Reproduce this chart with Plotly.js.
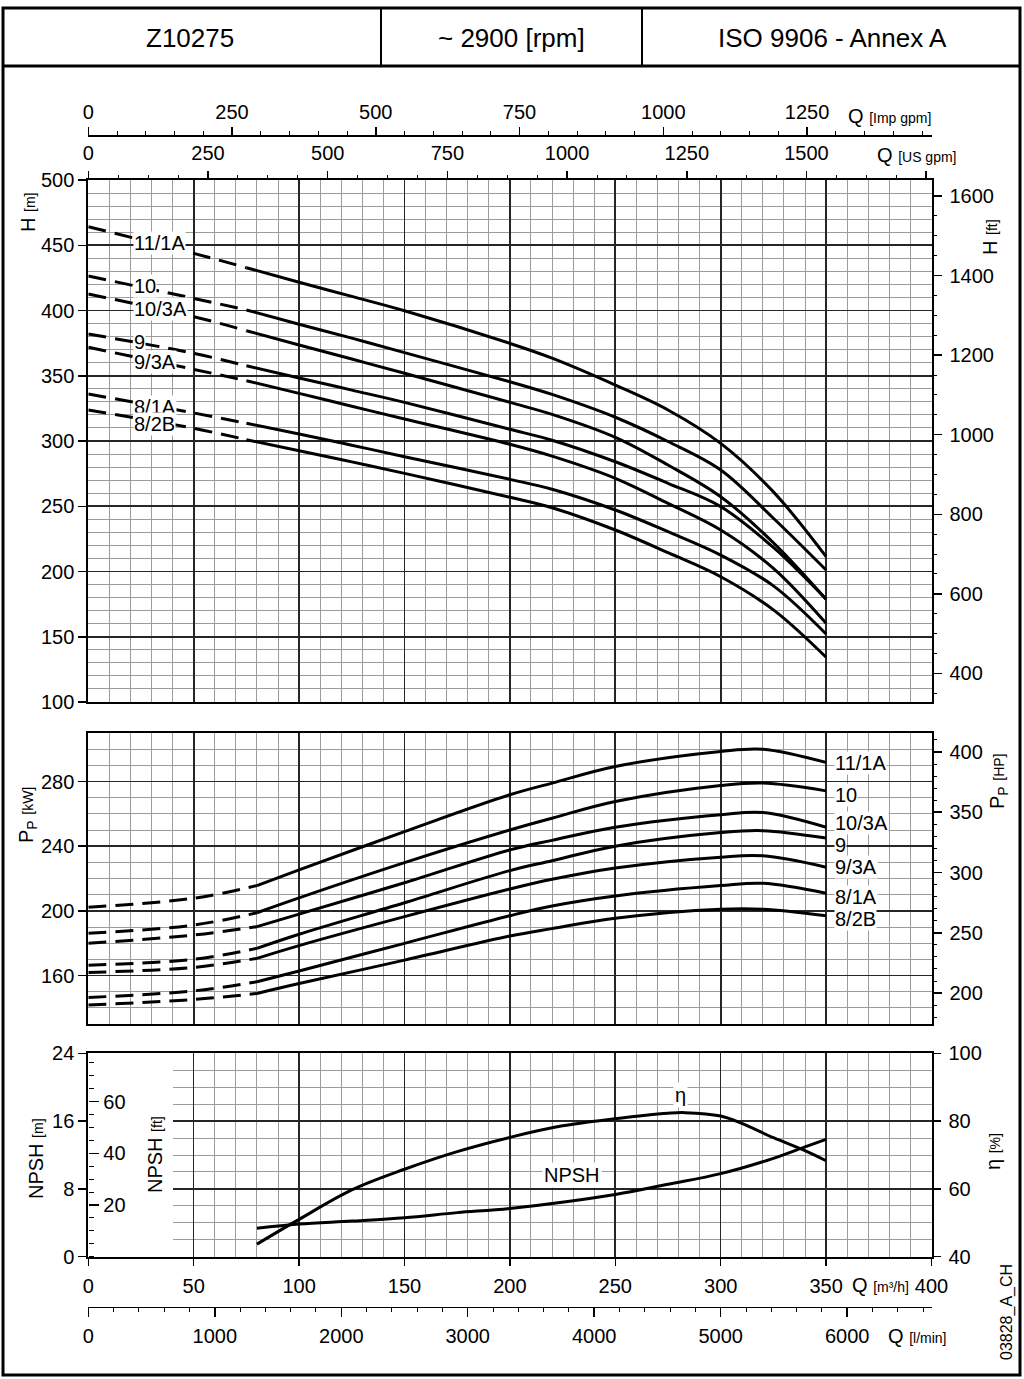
<!DOCTYPE html>
<html><head><meta charset="utf-8">
<script src="https://cdn.plot.ly/plotly-3.0.1.min.js"></script>
<style>html,body{margin:0;padding:0;background:#fff}</style>
</head><body><div id="chart" style="width:1024px;height:1379px"></div>
<script>
// ---------- DATA ----------
const curveNames = ['11/1A', '10', '10/3A', '9', '9/3A', '8/1A', '8/2B'];

// Head H [m] vs Q [m3/h]
const qHead = [0, 50, 75, 100, 125, 150, 200, 220, 250, 275, 300, 325, 350];
const head_11_1A = [464.2, 443.8, 432.8, 421.6, 410.8, 399.8, 374.8, 363.5, 342.9, 323.8, 298.2, 261.0, 211.4];
const head_10    = [426.4, 409.3, 400.4, 389.5, 378.8, 367.7, 345.4, 335.7, 318.2, 299.6, 277.8, 240.8, 201.1];
const head_10_3A = [412.6, 395.3, 384.5, 373.6, 362.8, 351.9, 329.6, 320.4, 302.8, 281.6, 257.3, 222.0, 178.7];
const head_9     = [382.0, 367.2, 357.6, 348.3, 339.0, 329.6, 309.0, 300.6, 284.1, 267.6, 249.7, 218.4, 178.7];
const head_9_3A  = [371.8, 354.9, 346.2, 336.5, 326.6, 316.9, 297.5, 288.4, 271.4, 252.2, 231.8, 202.4, 160.3];
const head_8_1A  = [336.0, 321.5, 313.6, 305.4, 296.8, 288.0, 270.6, 263.0, 247.1, 230.5, 212.6, 189.0, 152.1];
const head_8_2B  = [323.8, 309.7, 301.0, 292.6, 284.0, 275.2, 256.9, 248.9, 231.8, 214.4, 196.0, 170.6, 134.3];
const qHeadDashEnd = 75;

// Power P [kW] vs Q [m3/h]
const qPower = [0, 50, 80, 100, 150, 200, 220, 250, 300, 320, 350];
const power_11_1A = [202.2, 207.8, 215.6, 225.3, 249.0, 271.8, 279.0, 289.3, 298.6, 300.0, 291.8];
const power_10    = [186.1, 191.2, 198.8, 208.0, 229.8, 250.0, 257.3, 267.6, 277.5, 279.0, 274.2];
const power_10_3A = [179.9, 185.0, 190.2, 198.0, 217.4, 237.7, 243.6, 251.7, 259.4, 260.8, 251.7];
const power_9     = [166.4, 170.0, 176.8, 185.5, 205.0, 224.9, 231.0, 240.0, 248.4, 249.6, 245.0];
const power_9_3A  = [161.9, 165.0, 170.6, 178.5, 196.4, 213.5, 219.5, 226.5, 233.2, 234.0, 227.0];
const power_8_1A  = [146.4, 150.5, 156.1, 162.8, 179.9, 197.0, 203.0, 209.2, 215.6, 217.0, 210.9];
const power_8_2B  = [141.7, 145.2, 148.9, 155.0, 169.5, 184.4, 189.0, 195.4, 201.0, 201.0, 197.0];
const qPowerDashEnd = 80;

// NPSH [m] and efficiency [%] vs Q [m3/h]
const qNpsh = [80, 100, 125, 150, 175, 200, 250, 275, 300, 325, 340, 350];
const npsh  = [3.35, 3.85, 4.2, 4.6, 5.2, 5.7, 7.35, 8.55, 9.8, 11.6, 12.95, 13.85];
const qEff  = [80, 90, 100, 125, 150, 175, 200, 225, 250, 275, 283, 300, 310, 325, 340, 350];
const eff   = [43.7, 47.4, 51.0, 59.7, 65.8, 71.0, 75.2, 78.6, 80.7, 82.3, 82.5, 81.5, 79.3, 75.1, 71.3, 68.3];

// Unit conversions and tick labels
const M_PER_FT = 0.3048;
const KW_PER_HP = 0.7457;
const M3H_PER_USGPM = 0.227125;
const M3H_PER_IMPGPM = 0.272765;
const M3H_PER_LMIN = 0.06;
const Q_MAX = 400;
const usGpmTicks = [0, 250, 500, 750, 1000, 1250, 1500, 1750];
const usGpmLabels = ['0', '250', '500', '750', '1000', '1250', '1500', ' '];
const npshFtTicks = [20, 40, 60];

// ---------- LAYOUT HELPERS ----------
const W = 1024, Hgt = 1379;
const px = v => v / W;
const py = v => 1 - v / Hgt;
const XD = [px(88.3), px(931.5)];
const XG0 = px(172.6);
const DOM_H = [py(702), py(180)];
const DOM_P = [py(1024), py(733)];
const DOM_N = [py(1256.7), py(1053.3)];

const FONT = 'Liberation Sans, Arial, Helvetica, sans-serif';
const GMAJ = '#262626', GMIN = '#9c9c9c';

const headSeries = [head_11_1A, head_10, head_10_3A, head_9, head_9_3A, head_8_1A, head_8_2B];
const powerSeries = [power_11_1A, power_10, power_10_3A, power_9, power_9_3A, power_8_1A, power_8_2B];

const traces = [];
const LINE = {color: '#000', width: 3, shape: 'spline', smoothing: 1};
function addSplit(qs, vals, split, xa, ya) {
  const dq = [], dv = [], sq = [], sv = [];
  qs.forEach((q, i) => {
    if (q <= split) { dq.push(q); dv.push(vals[i]); }
    if (q >= split) { sq.push(q); sv.push(vals[i]); }
  });
  const base = {mode: 'lines', xaxis: xa, yaxis: ya, hoverinfo: 'skip', showlegend: false};
  traces.push(Object.assign({x: dq, y: dv, line: Object.assign({}, LINE, {dash: '18px,9px'})}, base));
  traces.push(Object.assign({x: sq, y: sv, line: Object.assign({}, LINE)}, base));
}
headSeries.forEach(s => addSplit(qHead, s, qHeadDashEnd, 'x', 'y'));
powerSeries.forEach(s => addSplit(qPower, s, qPowerDashEnd, 'x4', 'y3'));
traces.push({x: qNpsh, y: npsh, mode: 'lines', xaxis: 'x6', yaxis: 'y7', line: Object.assign({}, LINE), hoverinfo: 'skip', showlegend: false});
traces.push({x: qEff, y: eff, mode: 'lines', xaxis: 'x6', yaxis: 'y8', line: Object.assign({}, LINE), hoverinfo: 'skip', showlegend: false});

// placeholder traces so every axis pair is drawn
[['x2','y'],['x3','y'],['x','y2'],['x4','y4'],['x5','y5'],['x5','y6'],['x7','y5']].forEach(p => {
  traces.push({x: [null], y: [null], xaxis: p[0], yaxis: p[1], mode: 'lines', hoverinfo: 'skip', showlegend: false});
});

const tickF = {family: FONT, size: 20, color: '#000'};
const gridX = (dom, anchor) => ({
  domain: dom, range: [0, Q_MAX], anchor: anchor, tick0: 0, dtick: 50,
  showgrid: true, gridcolor: GMAJ, gridwidth: 1.6,
  minor: {tick0: 0, dtick: 10, showgrid: true, gridcolor: GMIN, gridwidth: 1, ticks: ''},
  showticklabels: false, ticks: '', showline: true, mirror: true, linecolor: '#000', linewidth: 2,
  zeroline: false, fixedrange: true
});

const layout = {
  width: W, height: Hgt, autosize: false,
  margin: {l: 0, r: 0, t: 0, b: 0, pad: 0},
  paper_bgcolor: '#fff', plot_bgcolor: 'rgba(0,0,0,0)',
  font: {family: FONT, size: 20, color: '#000'},
  showlegend: false,
  // ---- Head plot ----
  xaxis: gridX(XD, 'y'),
  yaxis: {domain: DOM_H, range: [100, 500], anchor: 'x', tick0: 0, dtick: 50,
    ticks: 'outside', ticklen: 8, tickwidth: 1.5, tickcolor: '#000', tickfont: tickF,
    showgrid: true, gridcolor: GMAJ, gridwidth: 1.6,
    minor: {dtick: 10, tick0: 0, showgrid: true, gridcolor: GMIN, gridwidth: 1, ticks: ''},
    showline: true, mirror: true, linecolor: '#000', linewidth: 2, zeroline: false},
  yaxis2: {overlaying: 'y', side: 'right', anchor: 'x', range: [100 / M_PER_FT, 500 / M_PER_FT],
    tick0: 0, dtick: 200, ticks: 'outside', ticklen: 9, tickwidth: 1.5, tickcolor: '#000', tickfont: tickF,
    ticklabelstandoff: 4,
    minor: {tick0: 0, dtick: 50, ticks: 'outside', ticklen: 4, tickwidth: 1, tickcolor: '#000', showgrid: false},
    showgrid: false, zeroline: false, showline: false},
  xaxis2: {overlaying: 'x', side: 'top', anchor: 'y', range: [0, Q_MAX / M3H_PER_USGPM],
    tickmode: 'array', tickvals: usGpmTicks, ticktext: usGpmLabels,
    ticks: 'outside', ticklen: 8, tickwidth: 1.5, tickcolor: '#000', tickfont: tickF,
    ticklabelstandoff: 3,
    minor: {tickmode: 'linear', tick0: 0, dtick: 62.5, ticks: 'outside', ticklen: 4, tickwidth: 1, tickcolor: '#000', showgrid: false},
    showgrid: false, zeroline: false, showline: false},
  xaxis3: {overlaying: 'x', side: 'top', anchor: 'free', position: py(135), range: [0, Q_MAX / M3H_PER_IMPGPM],
    tick0: 0, dtick: 250, ticks: 'outside', ticklen: 8, tickwidth: 1.5, tickcolor: '#000', tickfont: tickF,
    minor: {tick0: 0, dtick: 50, ticks: 'outside', ticklen: 4, tickwidth: 1, tickcolor: '#000', showgrid: false},
    showline: true, linecolor: '#000', linewidth: 1.5, showgrid: false, zeroline: false},
  // ---- Power plot ----
  xaxis4: gridX(XD, 'y3'),
  yaxis3: {domain: DOM_P, range: [130, 310], anchor: 'x4', tick0: 0, dtick: 40,
    ticks: 'outside', ticklen: 8, tickwidth: 1.5, tickcolor: '#000', tickfont: tickF,
    showgrid: true, gridcolor: GMAJ, gridwidth: 1.6,
    minor: {dtick: 10, tick0: 0, showgrid: true, gridcolor: GMIN, gridwidth: 1, ticks: ''},
    showline: true, mirror: true, linecolor: '#000', linewidth: 2, zeroline: false},
  yaxis4: {overlaying: 'y3', side: 'right', anchor: 'x4', range: [130 / KW_PER_HP, 310 / KW_PER_HP],
    tick0: 0, dtick: 50, ticks: 'outside', ticklen: 9, tickwidth: 1.5, tickcolor: '#000', tickfont: tickF,
    ticklabelstandoff: 4,
    minor: {tick0: 0, dtick: 10, ticks: 'outside', ticklen: 4, tickwidth: 1, tickcolor: '#000', showgrid: false},
    showgrid: false, zeroline: false, showline: false},
  // ---- NPSH / efficiency plot ----
  xaxis5: {domain: XD, range: [0, Q_MAX], anchor: 'y5', tick0: 0, dtick: 50,
    ticks: 'outside', ticklen: 7, tickwidth: 1.5, tickcolor: '#000', tickfont: tickF,
    ticklabelstandoff: 3,
    showgrid: false, showline: true, mirror: true, linecolor: '#000', linewidth: 2, zeroline: false},
  yaxis5: {domain: DOM_N, range: [0, 24], anchor: 'x5', tick0: 0, dtick: 8,
    ticks: 'outside', ticklen: 8, tickwidth: 1.5, tickcolor: '#000', tickfont: tickF,
    showgrid: false, showline: true, mirror: true, linecolor: '#000', linewidth: 2, zeroline: false},
  yaxis6: {overlaying: 'y5', anchor: 'free', position: XD[0], side: 'right', range: [0, 24 / M_PER_FT],
    tickmode: 'array', tickvals: npshFtTicks, ticks: 'outside', ticklen: 10, tickwidth: 1.5, tickcolor: '#000', tickfont: tickF,
    minor: {tickmode: 'linear', tick0: 0, dtick: 5, ticks: 'outside', ticklen: 5, tickwidth: 1, tickcolor: '#000', showgrid: false},
    showgrid: false, zeroline: false, showline: false},
  xaxis6: {domain: [XG0, XD[1]], range: [40, Q_MAX], anchor: 'y7', tick0: 0, dtick: 50,
    showgrid: true, gridcolor: GMAJ, gridwidth: 1.6,
    minor: {tick0: 0, dtick: 10, showgrid: true, gridcolor: GMIN, gridwidth: 1, ticks: ''},
    showticklabels: false, ticks: '', showline: false, zeroline: false},
  yaxis7: {domain: DOM_N, range: [0, 24], anchor: 'x6', tick0: 0, dtick: 8,
    showgrid: true, gridcolor: GMAJ, gridwidth: 1.6,
    minor: {tick0: 0, dtick: 2, showgrid: true, gridcolor: GMIN, gridwidth: 1, ticks: ''},
    showticklabels: false, ticks: '', showline: false, zeroline: false},
  yaxis8: {overlaying: 'y7', side: 'right', anchor: 'x6', range: [40, 100], tick0: 0, dtick: 20,
    ticks: 'outside', ticklen: 8, tickwidth: 1.5, tickcolor: '#000', tickfont: tickF,
    ticklabelstandoff: 4,
    showgrid: false, zeroline: false, showline: false},
  xaxis7: {overlaying: 'x5', anchor: 'free', position: py(1306.7), side: 'bottom', range: [0, Q_MAX / M3H_PER_LMIN],
    tick0: 0, dtick: 1000, ticks: 'outside', ticklen: 9, tickwidth: 1.5, tickcolor: '#000', tickfont: tickF,
    ticklabelstandoff: 2,
    minor: {tick0: 0, dtick: 200, ticks: 'outside', ticklen: 4, tickwidth: 1, tickcolor: '#000', showgrid: false},
    showline: true, linecolor: '#000', linewidth: 1.5, showgrid: false, zeroline: false},
  shapes: [],
  annotations: []
};

// frame and header
const S = layout.shapes;
S.push({type: 'rect', xref: 'paper', yref: 'paper', x0: px(3), x1: px(1020), y0: py(1375), y1: py(8), line: {color: '#000', width: 3}});
S.push({type: 'line', xref: 'paper', yref: 'paper', x0: px(3), x1: px(1020), y0: py(66), y1: py(66), line: {color: '#000', width: 3}});
S.push({type: 'line', xref: 'paper', yref: 'paper', x0: px(381), x1: px(381), y0: py(8), y1: py(66), line: {color: '#000', width: 2}});
S.push({type: 'line', xref: 'paper', yref: 'paper', x0: px(642), x1: px(642), y0: py(8), y1: py(66), line: {color: '#000', width: 2}});

const A = layout.annotations;
const paperText = (x, y, text, opts) => A.push(Object.assign({xref: 'paper', yref: 'paper', x: px(x), y: py(y), text: text,
  xanchor: 'center', yanchor: 'middle', showarrow: false, font: {family: FONT, size: 20, color: '#000'}}, opts || {}));
const HF = {family: FONT, size: 26, color: '#000'};
paperText(190, 38, 'Z10275', {font: HF});
paperText(511, 38, '~ 2900 [rpm]', {font: HF});
paperText(832, 38, 'ISO 9906 - Annex A', {font: HF});

const sm = t => '<span style="font-size:14px">' + t + '</span>';
paperText(28, 213, 'H ' + sm('[m]'), {textangle: -90});
paperText(990, 237, 'H ' + sm('[ft]'), {textangle: -90});
paperText(27, 815, 'P<sub>P</sub> ' + sm('[kW]'), {textangle: -90});
paperText(998, 782, 'P<sub>P</sub> ' + sm('[HP]'), {textangle: -90});
paperText(36, 1159, 'NPSH ' + sm('[m]'), {textangle: -90});
paperText(155, 1155, 'NPSH ' + sm('[ft]'), {textangle: -90});
paperText(993, 1152, 'η ' + sm('[%]'), {textangle: -90});
paperText(1007, 1312, '03828_A_CH', {textangle: -90, font: {family: FONT, size: 16, color: '#000'}});
paperText(846, 116, 'Q ' + sm('[Imp gpm]'), {xanchor: 'left'});
paperText(875, 155, 'Q ' + sm('[US gpm]'), {xanchor: 'left'});
paperText(850, 1285, 'Q ' + sm('[m³/h]'), {xanchor: 'left'});
paperText(886, 1336, 'Q ' + sm('[l/min]'), {xanchor: 'left'});

// curve labels
const headLabelY = [451.7, 418.4, 401.4, 375.5, 360.2, 325.7, 313.0];
const powerLabelY = [291.6, 271.8, 254.6, 240.8, 227.3, 208.7, 194.9];
curveNames.forEach((n, i) => {
  A.push({xref: 'x', yref: 'y', x: 21.3, y: headLabelY[i], text: n, xanchor: 'left', yanchor: 'middle', showarrow: false, bgcolor: '#fff', borderpad: 0, font: {family: FONT, size: 20, color: '#000'}});
});
curveNames.forEach((n, i) => {
  A.push({xref: 'x4', yref: 'y3', x: 353.7, y: powerLabelY[i], text: n, xanchor: 'left', yanchor: 'middle', showarrow: false, bgcolor: '#fff', borderpad: 0, font: {family: FONT, size: 20, color: '#000'}});
});
A.push({xref: 'x6', yref: 'y8', x: 280.7, y: 87.7, text: 'η', xanchor: 'center', yanchor: 'middle', showarrow: false, bgcolor: '#fff', borderpad: 1, font: {family: FONT, size: 20, color: '#000'}});
A.push({xref: 'x6', yref: 'y7', x: 229.4, y: 9.64, text: 'NPSH', xanchor: 'center', yanchor: 'middle', showarrow: false, bgcolor: '#fff', borderpad: 1, font: {family: FONT, size: 20, color: '#000'}});

Plotly.newPlot('chart', traces, layout, {staticPlot: true, displayModeBar: false});
</script></body></html>
